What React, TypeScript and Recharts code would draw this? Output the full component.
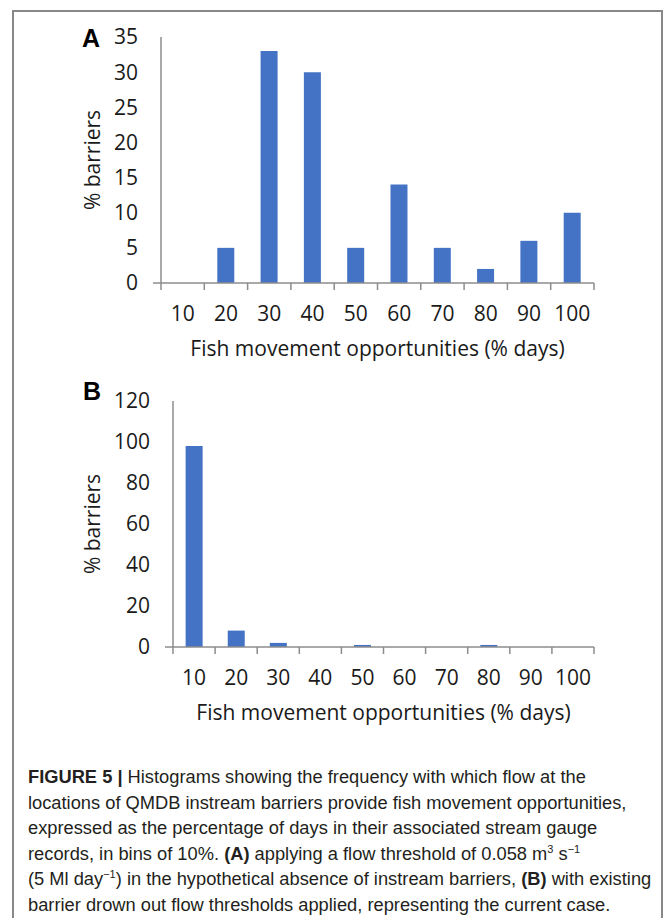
import { Bar, BarChart, Label, XAxis, YAxis } from "recharts";

const bins = ["10", "20", "30", "40", "50", "60", "70", "80", "90", "100"];
const noBarrierPct = [0, 5, 33, 30, 5, 14, 5, 2, 6, 10];
const withBarrierPct = [98, 8, 2, 0, 1, 0, 0, 1, 0, 0];
const ticksA = [0, 5, 10, 15, 20, 25, 30, 35];
const ticksB = [0, 20, 40, 60, 80, 100, 120];

const dataA = bins.map((bin, i) => ({ bin, pct: noBarrierPct[i] }));
const dataB = bins.map((bin, i) => ({ bin, pct: withBarrierPct[i] }));

const FONT = "'Open Sans', sans-serif";
const AXIS = "#8c8c8c";
const BLUE = "#4472c4";
const TEXT = "#1a1a1a";

// Excel-style category tick: marks sit on the bin edges, label in the middle
function BinTick(props: any) {
  const { x, y, payload, index, count } = props;
  const half = payload.offset || 0;
  return (
    <g>
      <line x1={x - half} x2={x - half} y1={y} y2={y + 7} stroke={AXIS} strokeWidth={1.5} />
      {index === 0 && (
        <line x1={x - half - 8} x2={x - half} y1={y} y2={y} stroke={AXIS} strokeWidth={1.5} />
      )}
      {index === count - 1 && (
        <line x1={x + half} x2={x + half} y1={y} y2={y + 7} stroke={AXIS} strokeWidth={1.5} />
      )}
      <text x={x} y={y + 23} dy="0.71em" textAnchor="middle" fontSize={21} fill={TEXT} fontFamily={FONT}>
        {payload.value}
      </text>
    </g>
  );
}

type PanelProps = {
  data: { bin: string; pct: number }[];
  ticks: number[];
  axisWidth: number;
  left: number;
};

function Panel({ data, ticks, axisWidth, left }: PanelProps) {
  return (
    <BarChart
      width={663}
      height={370}
      data={data}
      barCategoryGap="30%"
      margin={{ top: 37, right: 69, bottom: 14, left }}
    >
      <XAxis
        dataKey="bin"
        interval={0}
        stroke={AXIS}
        strokeWidth={1.5}
        tickLine={false}
        tickSize={0}
        tickMargin={0}
        height={73}
        tick={<BinTick count={data.length} />}
      >
        <Label
          value="Fish movement opportunities (% days)"
          position="insideBottom"
          offset={0}
          style={{ fontSize: 21, fill: TEXT, fontFamily: FONT }}
        />
      </XAxis>
      <YAxis
        domain={[ticks[0], ticks[ticks.length - 1]]}
        ticks={ticks}
        width={axisWidth}
        tickLine={false}
        tickSize={0}
        tickMargin={23}
        stroke={AXIS}
        strokeWidth={1.5}
        tick={{ fontSize: 21, fill: TEXT, fontFamily: FONT }}
      >
        <Label
          value="% barriers"
          angle={-90}
          position="center"
          style={{ fontSize: 21, fill: TEXT, fontFamily: FONT }}
        />
      </YAxis>
      <Bar dataKey="pct" fill={BLUE} isAnimationActive={false} />
    </BarChart>
  );
}

export default function App() {
  const cap = { fontFamily: "'Liberation Sans Narrow', 'Liberation Sans', sans-serif", fontSize: 18.3, fill: "#231f20" };
  return (
    <div style={{ position: "absolute", left: 0, top: 0, width: 663, height: 918, background: "#fff", overflow: "hidden" }}>
      <div
        style={{
          position: "absolute",
          left: 12,
          top: 10,
          width: 647,
          height: 930,
          borderTop: "2px solid #888",
          borderLeft: "2px solid #888",
          borderRight: "2px solid #888",
        }}
      />
      <div style={{ position: "absolute", left: 0, top: 0 }}>
        <Panel data={dataA} ticks={ticksA} axisWidth={136} left={25} />
      </div>
      <div style={{ position: "absolute", left: 0, top: 364 }}>
        <Panel data={dataB} ticks={ticksB} axisWidth={160} left={13} />
      </div>
      <svg width={663} height={918} style={{ position: "absolute", left: 0, top: 0, pointerEvents: "none" }}>
        <text x={82} y={47} fontFamily="'Liberation Sans', Arial, sans-serif" fontWeight="bold" fontSize={25} fill="#000">
          A
        </text>
        <text x={83} y={400} fontFamily="'Liberation Sans', Arial, sans-serif" fontWeight="bold" fontSize={25} fill="#000">
          B
        </text>
        <g style={cap}>
          <text x={28} y={783}>
            <tspan fontWeight="bold">FIGURE 5 | </tspan>
            <tspan>Histograms showing the frequency with which flow at the</tspan>
          </text>
          <text x={28} y={808.5}>locations of QMDB instream barriers provide fish movement opportunities,</text>
          <text x={28} y={834}>expressed as the percentage of days in their associated stream gauge</text>
          <text x={28} y={859.5}>
            <tspan>records, in bins of 10%. </tspan>
            <tspan fontWeight="bold">(A)</tspan>
            <tspan> applying a flow threshold of 0.058 m</tspan>
            <tspan dy={-7} fontSize={11}>3</tspan>
            <tspan dy={7}> s</tspan>
            <tspan dy={-7} fontSize={11}>−1</tspan>
          </text>
          <text x={28} y={885}>
            <tspan>(5 Ml day</tspan>
            <tspan dy={-7} fontSize={11}>−1</tspan>
            <tspan dy={7}>) in the hypothetical absence of instream barriers, </tspan>
            <tspan fontWeight="bold">(B)</tspan>
            <tspan> with existing</tspan>
          </text>
          <text x={28} y={910.5}>barrier drown out flow thresholds applied, representing the current case.</text>
        </g>
      </svg>
    </div>
  );
}
